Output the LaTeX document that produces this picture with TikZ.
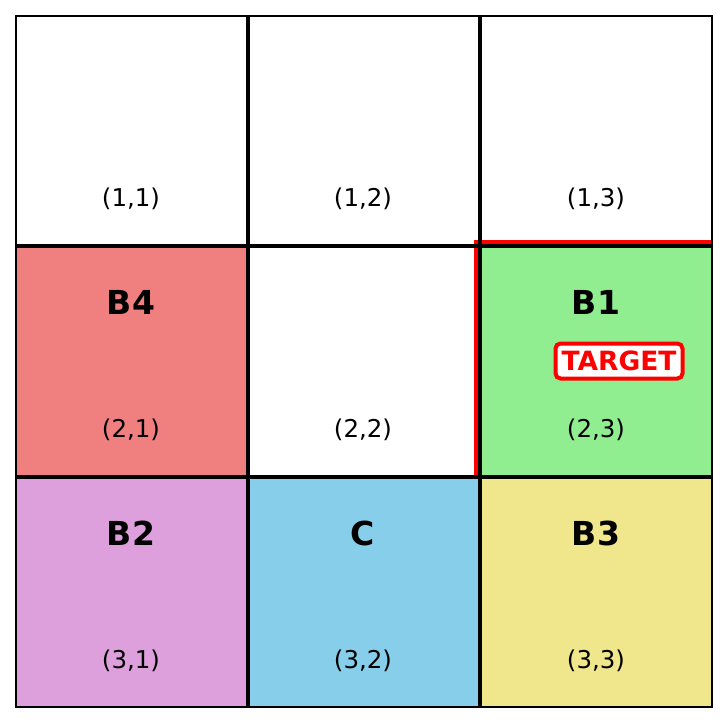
\documentclass[tikz,border=0pt]{standalone}
\usepackage{fontspec}
\setmainfont{DejaVu Sans}
\begin{document}
\begin{tikzpicture}[x=1pt,y=-1pt,
  coordlbl/.style={font=\fontsize{24.5}{27}\selectfont, inner sep=0pt},
  celltitle/.style={font=\fontsize{33}{36}\selectfont\bfseries, inner sep=0pt},
  tgtbox/.style={draw=red, line width=4pt, fill=white, rounded corners=5pt, text=red,
    font=\fontsize{26.5}{29}\selectfont\bfseries, inner xsep=3pt, inner ysep=3pt, minimum width=127pt, minimum height=35pt}]
\useasboundingbox (0,0) rectangle (727,723);
% fills
\fill[white] (16,16) rectangle (712,246);
\fill[white] (248,246) rectangle (480,477);
\fill[fill={rgb,255:red,240;green,128;blue,128}] (16,246) rectangle (248,477);
\fill[fill={rgb,255:red,144;green,238;blue,144}] (480,246) rectangle (712,477);
\fill[fill={rgb,255:red,221;green,160;blue,221}] (16,477) rectangle (248,707);
\fill[fill={rgb,255:red,135;green,206;blue,235}] (248,477) rectangle (480,707);
\fill[fill={rgb,255:red,240;green,230;blue,140}] (480,477) rectangle (712,707);
% red highlight
\draw[red, line width=4pt] (476,477) -- (476,242) -- (712,242);
% grid
\draw[line width=4pt] (248,16) -- (248,707) (480,16) -- (480,707)
  (16,246) -- (712,246) (16,477) -- (712,477);
\draw[line width=2pt] (16,16) rectangle (712,707);
% labels
\node[coordlbl] (c11) at (131,199) {(1,1)};
\node[coordlbl] (c12) at (363,199) {(1,2)};
\node[coordlbl] (c13) at (596,199) {(1,3)};
\node[coordlbl] (c21) at (131,430) {(2,1)};
\node[coordlbl] (c22) at (363,430) {(2,2)};
\node[coordlbl] (c23) at (596,430) {(2,3)};
\node[coordlbl] (c31) at (131,661) {(3,1)};
\node[coordlbl] (c32) at (363,661) {(3,2)};
\node[coordlbl] (c33) at (596,661) {(3,3)};
\node[celltitle] (b4) at (131,302) {B4};
\node[celltitle] (b1) at (596,302) {B1};
\node[celltitle] (b2) at (131,533) {B2};
\node[celltitle] (cc) at (363,533) {C};
\node[celltitle] (b3) at (596,533) {B3};
\node[tgtbox] (tgt) at (619,361) {TARGET};
\end{tikzpicture}
\end{document}
